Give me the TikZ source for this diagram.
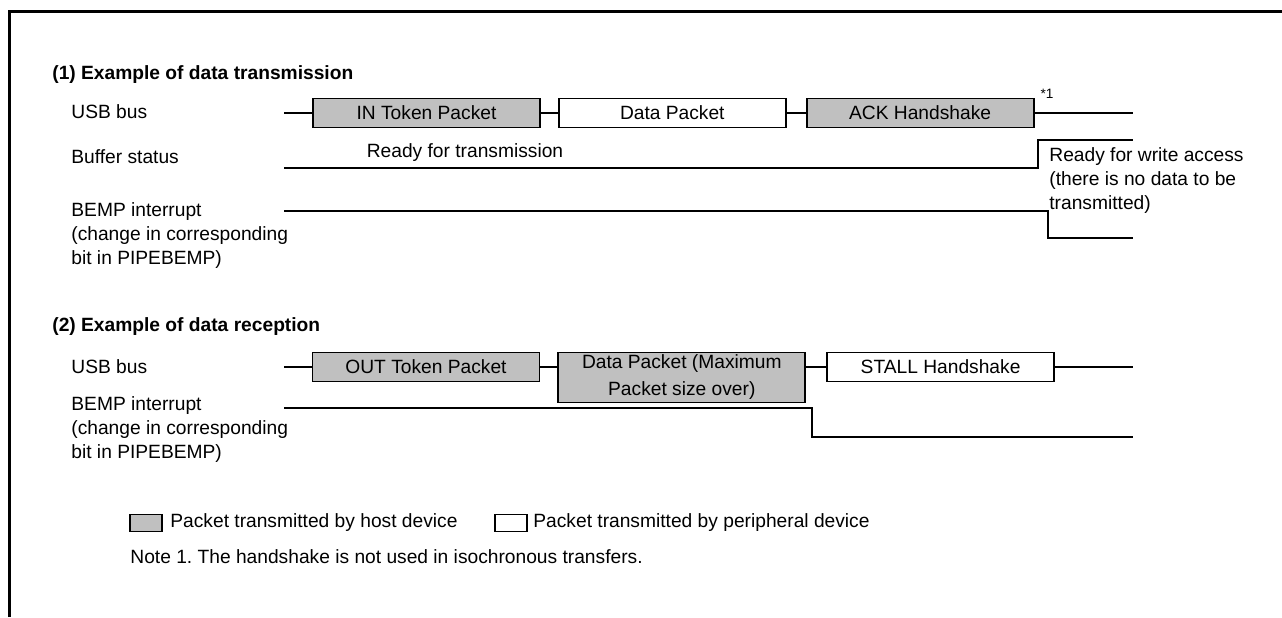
\documentclass[tikz,border=0pt]{standalone}
\usepackage{fontspec}
\setmainfont{Liberation Sans}
\usetikzlibrary{positioning}
\frenchspacing
\definecolor{hostgray}{HTML}{C0C0C0}
\tikzstyle{every node}=[font=\fontsize{9.6}{12}\selectfont]
\tikzstyle{pkt}=[draw,rectangle,line width=0.9pt,minimum width=113.5pt,minimum height=14.5pt,inner sep=1pt]
\tikzstyle{host}=[pkt,fill=hostgray]
\tikzstyle{dev}=[pkt,fill=white]
\tikzstyle{sig}=[line width=0.8pt]
\tikzstyle{lbl}=[anchor=west,inner sep=0pt]
\tikzstyle{mlbl}=[anchor=north west,align=left,inner sep=0pt]
\tikzstyle{swatch}=[draw,rectangle,line width=0.8pt,minimum width=16pt,minimum height=8.5pt,inner sep=0pt]

\begin{document}
\begin{tikzpicture}[x=0.5pt,y=-0.5pt]
    \useasboundingbox (0,0) rectangle (1282,617);
    \draw[line width=1.5pt] (9,617) -- (9,11) -- (1282,11);

    \node[lbl, font=\fontsize{9.6}{12}\selectfont\bfseries] (title1) at (52,75) {(1) Example of data transmission};
    \node[lbl] (usb1) at (71,112) {USB bus};
    \node[lbl] (buf1) at (71,157) {Buffer status};
    \node[mlbl] (bemp1) at (71,202) {BEMP interrupt\\(change in corresponding\\bit in PIPEBEMP)};

    \coordinate (u1s) at (284,113);
    \node[host] (in) at (426.5,113) {IN Token Packet};
    \node[dev, right=8.5pt of in] (data) {Data Packet};
    \node[host, right=9.5pt of data] (ack) {ACK Handshake};
    \coordinate (u1e) at (1133,113);
    \node[font=\fontsize{6.8}{7}\selectfont] (star) at (1047,94) {*1};
    \draw[sig] (u1s) -- (in);
    \draw[sig] (in) -- (data);
    \draw[sig] (data) -- (ack);
    \draw[sig] (ack) -- (u1e);

    \coordinate (b1s) at (284,168);
    \coordinate (b1r) at (1038,168);
    \coordinate (b1e) at (1133,140);
    \draw[sig] (b1s) -- (b1r) |- (b1e);
    \node (rdytx) at (465,153) {Ready for transmission};
    \node[mlbl] (rdywr) at (1049,147) {Ready for write access\\(there is no data to be\\transmitted)};

    \coordinate (e1s) at (284,211);
    \coordinate (e1r) at (1048,211);
    \coordinate (e1e) at (1133,238);
    \draw[sig] (e1s) -- (e1r) |- (e1e);

    \node[lbl, font=\fontsize{9.6}{12}\selectfont\bfseries] (title2) at (52,327) {(2) Example of data reception};
    \node[lbl] (usb2) at (71,367) {USB bus};
    \node[mlbl] (bemp2) at (71,396) {BEMP interrupt\\(change in corresponding\\bit in PIPEBEMP)};

    \coordinate (u2s) at (284,367);
    \node[host] (out) at (426,367) {OUT Token Packet};
    \node[host, anchor=north west, minimum width=123.5pt, minimum height=25pt, align=center, font=\fontsize{9.6}{13.5}\selectfont] (data2) at ([xshift=8.5pt]out.north east) {Data Packet (Maximum\\Packet size over)};
    \node[dev, anchor=north west] (stall) at ([xshift=10pt]data2.north east) {STALL Handshake};
    \coordinate (u2e) at (1133,367);
    \draw[sig] (u2s) -- (out);
    \draw[sig] (out.east) -- (out.east -| data2.west);
    \draw[sig] (stall.west -| data2.east) -- (stall.west);
    \draw[sig] (stall) -- (u2e);

    \coordinate (e2s) at (284,408);
    \coordinate (e2r) at (812,408);
    \coordinate (e2e) at (1133,437);
    \draw[sig] (e2s) -- (e2r) |- (e2e);

    \node[swatch, fill=hostgray] (lghost) at (146,523) {};
    \node[lbl] (lghosttxt) at (170,523) {Packet transmitted by host device};
    \node[swatch, fill=white] (lgdev) at (511,523) {};
    \node[lbl] (lgdevtxt) at (533,523) {Packet transmitted by peripheral device};
    \node[lbl] (note) at (130,557) {Note 1. The handshake is not used in isochronous transfers.};
\end{tikzpicture}
\end{document}
